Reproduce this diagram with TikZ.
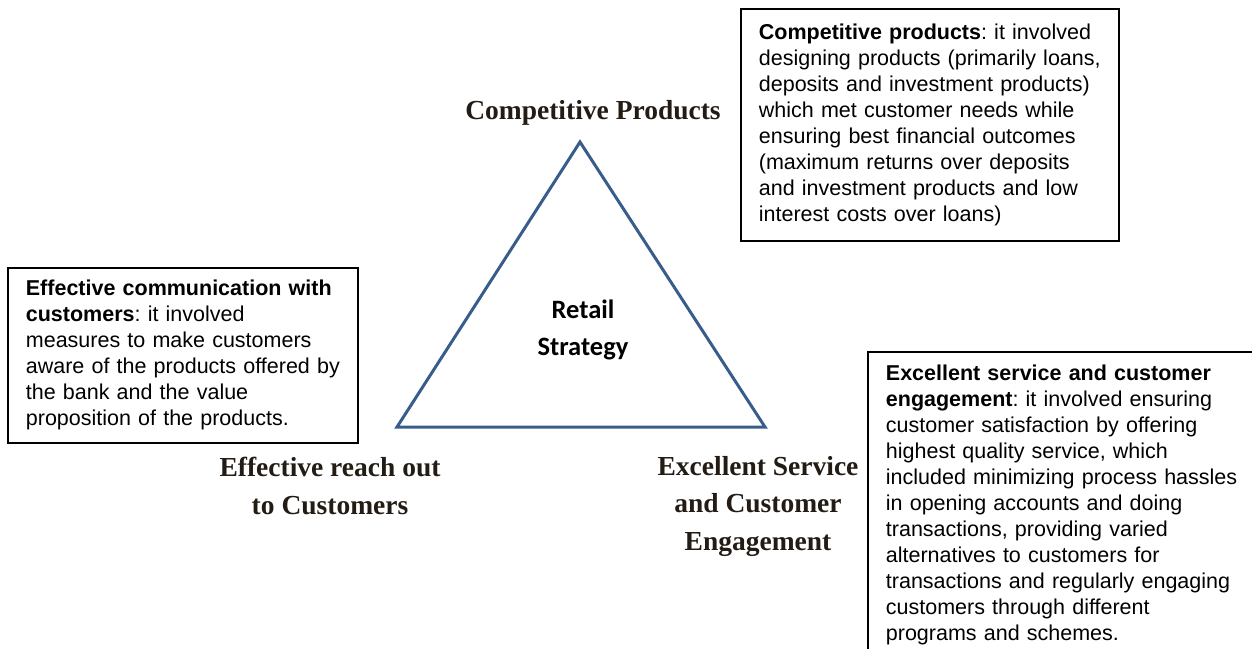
\documentclass[tikz,border=0pt]{standalone}
\usepackage{fontspec}
\setmainfont{Liberation Serif}
\setsansfont{Liberation Sans}
\newfontfamily\calibri{Carlito}
\usetikzlibrary{positioning}
\frenchspacing

\definecolor{triblue}{RGB}{56,93,138}
\definecolor{labelink}{RGB}{35,28,20}

\tikzset{
    notebox/.style={draw=black, line width=1.8pt, anchor=north west,
        align=left, inner xsep=18pt, inner ysep=0pt,
        font=\sffamily\fontsize{21.5}{26}\selectfont},
    cornerlabel/.style={align=center, text=labelink, inner sep=0pt,
        font=\rmfamily\bfseries\fontsize{27.5}{37.5}\selectfont},
}

\begin{document}
\begin{tikzpicture}[x=1pt, y=-1pt]
        \useasboundingbox (0, 0) rectangle (1252, 648);
        \clip (0, 0) rectangle (1252, 648);

        \coordinate (apex) at (580, 142);
        \coordinate (baseL) at (397, 427);
        \coordinate (baseR) at (765, 427);
        \draw[triblue, line width=3pt] (apex) -- (baseL) -- (baseR) -- cycle;

        \node[align=center, inner sep=0pt,
            font=\calibri\bfseries\fontsize{26.5}{37}\selectfont]
            (core) at (583, 330) {Retail\\Strategy};

        \node[cornerlabel] (products) at (593, 113) {Competitive Products};
        \node[cornerlabel] (reach) at (330, 486) {Effective reach out\\to Customers};
        \node[cornerlabel] (service) at (758, 506)
            {Excellent Service\\and Customer\\Engagement};

        % description boxes
        \node[notebox, text width=342pt, minimum height=232pt]
            (productsBox) at (740, 8)
            {\textbf{Competitive products}: it involved\\
             designing products (primarily loans,\\
             deposits and investment products)\\
             which met customer needs while\\
             ensuring best financial outcomes\\
             (maximum returns over deposits\\
             and investment products and low\\
             interest costs over loans)};

        \node[notebox, text width=314pt, minimum height=175pt]
            (reachBox) at (7, 267)
            {\textbf{Effective communication with}\\
             \textbf{customers}: it involved\\
             measures to make customers\\
             aware of the products offered by\\
             the bank and the value\\
             proposition of the products.};

        \node[notebox, text width=384pt, minimum height=306pt]
            (serviceBox) at (867, 351)
            {\textbf{Excellent service and customer}\\
             \textbf{engagement}: it involved ensuring\\
             customer satisfaction by offering\\
             highest quality service, which\\
             included minimizing process hassles\\
             in opening accounts and doing\\
             transactions, providing varied\\
             alternatives to customers for\\
             transactions and regularly engaging\\
             customers through different\\
             programs and schemes.};
    \end{tikzpicture}
\end{document}
